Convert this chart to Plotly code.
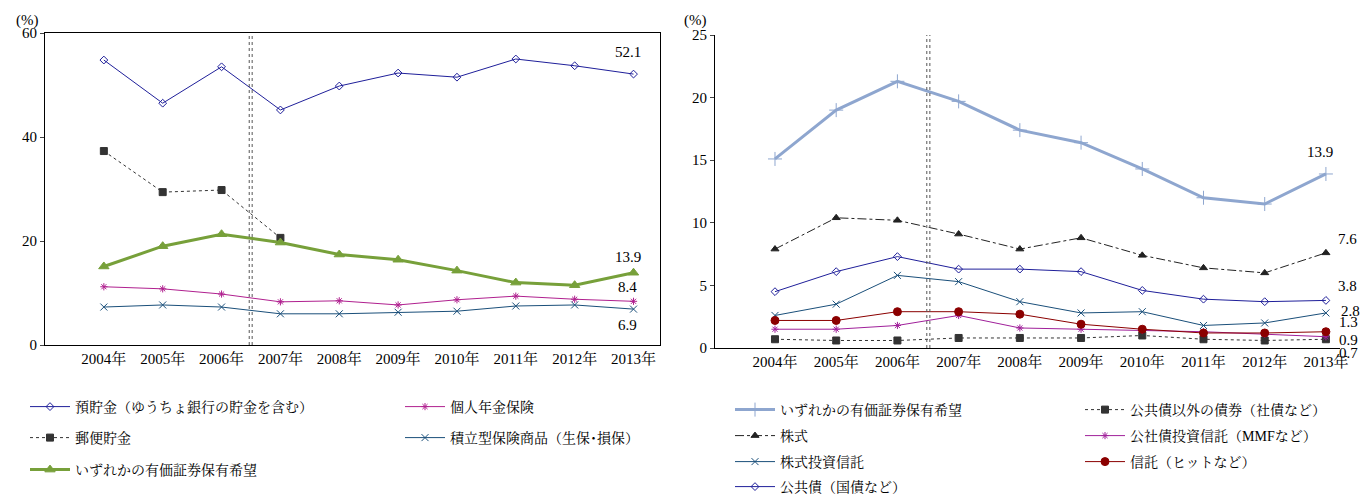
import plotly.graph_objects as go

years = ["2004年","2005年","2006年","2007年","2008年","2009年","2010年","2011年","2012年","2013年"]
xs = list(range(len(years)))

deposits = [54.8,46.5,53.5,45.2,49.8,52.3,51.5,55.0,53.7,52.1]
pension = [11.2,10.8,9.8,8.3,8.5,7.7,8.7,9.4,8.8,8.4]
postal = [37.3,29.4,29.8,20.6]
insurance = [7.3,7.7,7.3,6.0,6.0,6.3,6.5,7.5,7.7,6.9]
securities = [15.1,19.0,21.3,19.7,17.4,16.4,14.3,12.0,11.5,13.9]

stocks = [7.9,10.4,10.2,9.1,7.9,8.8,7.4,6.4,6.0,7.6]
public_bonds = [4.5,6.1,7.3,6.3,6.3,6.1,4.6,3.9,3.7,3.8]
stock_trusts = [2.6,3.5,5.8,5.3,3.7,2.8,2.9,1.8,2.0,2.8]
trusts = [2.2,2.2,2.9,2.9,2.7,1.9,1.5,1.2,1.2,1.3]
mmf = [1.5,1.5,1.8,2.6,1.6,1.5,1.4,1.3,1.1,0.9]
other_bonds = [0.7,0.6,0.6,0.8,0.8,0.8,1.0,0.7,0.6,0.7]

F = "Liberation Serif, Noto Serif CJK JP, Noto Sans CJK JP, serif"
W, H, O = 1368, 497, 8  # O: page offset compensation
def px(v): return (v - O) / W
def py(v): return 1 - (v - O) / H

fig = go.Figure()

def add(x, y, name, color, sym, legend, dash="solid", width=1, size=6, xa="x", ya="y"):
    fig.add_trace(go.Scatter(x=x, y=y, name=name, mode="lines+markers", xaxis=xa, yaxis=ya,
        line=dict(color=color, width=width, dash=dash),
        marker=dict(symbol=sym, size=size, color=color, line=dict(color=color, width=1)),
        legend=legend))

add(xs, deposits, "預貯金（ゆうちょ銀行の貯金を含む）", "#1f1f9a", "diamond-open", "legend")
add(xs, pension, "個人年金保険", "#b0208f", "asterisk-open", "legend")
add(xs[:4], postal, "郵便貯金", "#333333", "square", "legend2", dash="dot", size=7)
add(xs, insurance, "積立型保険商品（生保･損保）", "#1a4f7a", "x-thin-open", "legend2", size=7)
add(xs, securities, "いずれかの有価証券保有希望", "#77a03a", "triangle-up", "legend3", width=3, size=9)

R = dict(xa="x2", ya="y2")
add(xs, securities, "いずれかの有価証券保有希望", "#8ea6cf", "cross-thin-open", "legend4", width=3, size=10, **R)
add(xs, other_bonds, "公共債以外の債券（社債など）", "#333333", "square", "legend4", dash="dot", size=7, **R)
add(xs, stocks, "株式", "#222222", "triangle-up", "legend5", dash="dashdot", size=7, **R)
add(xs, mmf, "公社債投資信託（MMFなど）", "#a0209a", "asterisk-open", "legend5", **R)
add(xs, stock_trusts, "株式投資信託", "#1a4f7a", "x-thin-open", "legend6", size=7, **R)
add(xs, trusts, "信託（ヒットなど）", "#8b0000", "circle", "legend6", size=8, **R)
add(xs, public_bonds, "公共債（国債など）", "#1f1f9a", "diamond-open", "legend7", **R)

ax = dict(showgrid=False, zeroline=False, linecolor="black", showline=True, ticks="", tickfont=dict(size=15, family=F))

def leg(x, y, w):
    return dict(x=px(x), y=py(y), xanchor="left", yanchor="middle", orientation="h", entrywidth=w,
                entrywidthmode="pixels", font=dict(size=14, family=F), itemwidth=40, bgcolor="rgba(0,0,0,0)")

fig.update_layout(
    width=W, height=H, plot_bgcolor="white", paper_bgcolor="white",
    margin=dict(l=0, r=0, t=0, b=0, autoexpand=False), font=dict(family=F, color="black", size=14),
    xaxis=dict(ax, domain=[px(45), px(660)], range=[-1, 9.45], tickvals=xs, ticktext=years, mirror=True, anchor="y"),
    yaxis=dict(ax, domain=[py(345), py(33)], range=[0, 60], dtick=20, mirror=True, ticks="outside", ticklen=4, anchor="x"),
    xaxis2=dict(ax, domain=[px(715), px(1340)], range=[-0.98, 9.23], tickvals=xs, ticktext=years, anchor="y2"),
    yaxis2=dict(ax, domain=[py(348), py(35)], range=[0, 25], dtick=5, ticks="outside", ticklen=4, anchor="x2"),
    legend=leg(25, 407, 320), legend2=leg(25, 438, 320), legend3=leg(25, 470, 320),
    legend4=leg(730, 410, 295), legend5=leg(730, 436, 295), legend6=leg(730, 462, 295), legend7=leg(730, 487, 295),
    shapes=[
        dict(type="line", xref="x", yref="paper", x0=2.47, x1=2.47, y0=py(345), y1=py(33), line=dict(color="#555", width=1, dash="dot")),
        dict(type="line", xref="x", yref="paper", x0=2.52, x1=2.52, y0=py(345), y1=py(33), line=dict(color="#555", width=1, dash="dot")),
        dict(type="line", xref="x2", yref="paper", x0=2.48, x1=2.48, y0=py(348), y1=py(35), line=dict(color="#555", width=1, dash="dot")),
        dict(type="line", xref="x2", yref="paper", x0=2.53, x1=2.53, y0=py(348), y1=py(35), line=dict(color="#555", width=1, dash="dot")),
    ],
)
anns = [("x","y",9,52.1,"52.1",-6,22),("x","y",9,13.9,"13.9",-6,16),("x","y",9,8.4,"8.4",-6,14),("x","y",9,6.9,"6.9",-6,-16),
        ("x2","y2",9,13.9,"13.9",-6,22),("x2","y2",9,7.6,"7.6",22,14),("x2","y2",9,3.8,"3.8",22,14),("x2","y2",9,2.8,"2.8",25,2),
        ("x2","y2",9,1.3,"1.3",23,10),("x2","y2",9,0.9,"0.9",23,-3),("x2","y2",9,0.7,"0.7",23,-14)]
for xr, yr, x, y, t, dx, dy in anns:
    fig.add_annotation(xref=xr, yref=yr, x=x, y=y, text=t, showarrow=False, xshift=dx, yshift=dy, font=dict(size=15, family=F))
fig.add_annotation(xref="paper", yref="paper", x=px(14), y=py(10), text="(%)", showarrow=False, xanchor="left", font=dict(size=15, family=F))
fig.add_annotation(xref="paper", yref="paper", x=px(682), y=py(10), text="(%)", showarrow=False, xanchor="left", font=dict(size=15, family=F))
fig.write_html("out.html")
